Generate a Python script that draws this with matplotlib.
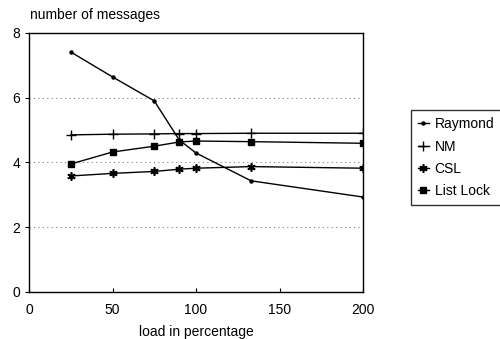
import matplotlib
matplotlib.use("Agg")
import matplotlib.pyplot as plt

plt.rcParams.update({"font.family": ["Liberation Sans", "DejaVu Sans"], "font.size": 10})

# load in percentage
LOAD = [25, 50, 75, 90, 100, 133, 200]
RAYMOND = [7.41, 6.64, 5.90, 4.69, 4.29, 3.43, 2.93]
NM = [4.85, 4.87, 4.88, 4.89, 4.89, 4.90, 4.90]
CSL = [3.58, 3.66, 3.72, 3.79, 3.82, 3.87, 3.82]
LIST_LOCK = [3.95, 4.32, 4.50, 4.63, 4.66, 4.64, 4.59]

fig = plt.figure(figsize=(5, 3.39), dpi=100)
ax = fig.add_axes([0.058, 0.139, 0.668, 0.764])

ax.plot(LOAD, RAYMOND, color="black", lw=1, marker="o", ms=2.2, label="Raymond")
ax.plot(LOAD, NM, color="black", lw=1, marker="+", ms=7, mew=1, label="NM")
ax.plot(LOAD, CSL, color="black", lw=1, marker=(6, 2, 0), ms=6, mew=1.2, label="CSL")
ax.plot(LOAD, LIST_LOCK, color="black", lw=1, marker="s", ms=4, label="List Lock")

ax.set_xlim(0, 200)
ax.set_ylim(0, 8)
ax.set_xticks([0, 50, 100, 150, 200])
ax.set_yticks([0, 2, 4, 6, 8])
ax.tick_params(axis="x", direction="in", length=3, pad=8)
ax.tick_params(axis="y", direction="out", length=3)
for y in [2, 4, 6]:
    ax.axhline(y, color="gray", lw=0.8, ls=(0, (1, 3)), zorder=0)
for s in ax.spines.values():
    s.set_linewidth(1)

ax.set_xlabel("load in percentage", labelpad=6)
fig.text(0.06, 0.945, "number of messages")

fig.legend(loc="upper left", bbox_to_anchor=(0.808, 0.695), frameon=True,
           fancybox=False, edgecolor="black", handlelength=0.8, handletextpad=0.4,
           labelspacing=0.6, borderpad=0.5)

fig.savefig("out.png", dpi=100)
